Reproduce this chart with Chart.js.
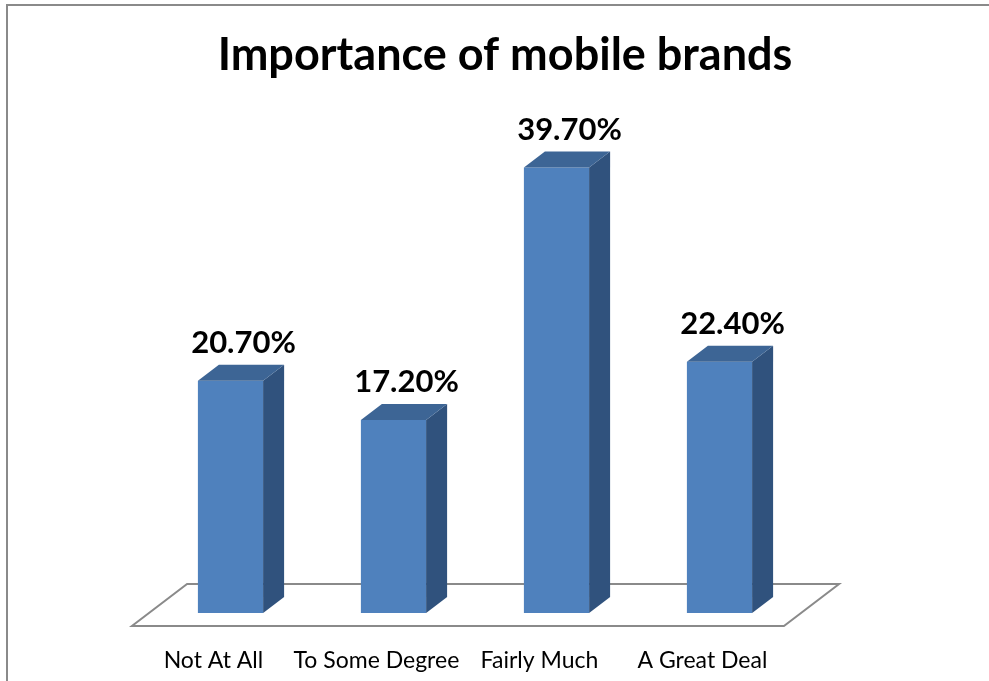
<!DOCTYPE html>
<html>
<head>
<meta charset="utf-8">
<title>Importance of mobile brands</title>
<script src="https://cdn.jsdelivr.net/npm/chart.js@4"></script>
<style>
  html, body { margin: 0; padding: 0; background: #fff; }
  #wrap { width: 989px; height: 681px; position: relative; }
</style>
</head>
<body>
<div id="wrap"><canvas id="brandChart"></canvas></div>
<script>
const categories = ['Not At All', 'To Some Degree', 'Fairly Much', 'A Great Deal'];
const shares = [20.7, 17.2, 39.7, 22.4];
const chartTitle = 'Importance of mobile brands';

const FONT = 'Lato, "Open Sans", sans-serif';
const FRONT = '#4f81bd';
const TOP = '#3d6595';
const SIDE = '#30527d';
const LINE = '#8a8a8a';
// depth of a bar (px to the right / up)
const DX = 21, DY = 16;
// floor sticks out this much in front of and behind the bars (vertical px)
const FLOOR_PAD = 13;
const SLOPE = DX / DY;

const box3d = {
  id: 'box3d',
  beforeDraw(chart) {
    const ctx = chart.ctx;
    ctx.save();
    // frame of the chart sheet
    ctx.strokeStyle = LINE;
    ctx.lineWidth = 2;
    ctx.beginPath();
    ctx.moveTo(7, 681);
    ctx.lineTo(7, 5);
    ctx.lineTo(989, 5);
    ctx.stroke();

    // title
    ctx.fillStyle = '#000';
    ctx.font = 'bold 45px ' + FONT;
    ctx.textAlign = 'center';
    ctx.textBaseline = 'alphabetic';
    ctx.fillText(chartTitle, 505, 70);
    ctx.restore();
  },
  beforeDatasetsDraw(chart) {
    const ctx = chart.ctx;
    const area = chart.chartArea;
    const y0 = chart.scales.y.getPixelForValue(0);
    const fy = y0 + FLOOR_PAD;
    const by = y0 - DY - FLOOR_PAD;
    const fl = area.left - FLOOR_PAD * SLOPE;
    const fr = area.right - FLOOR_PAD * SLOPE;
    const shift = (fy - by) * SLOPE;
    ctx.save();
    ctx.strokeStyle = LINE;
    ctx.lineWidth = 2;
    ctx.beginPath();
    ctx.moveTo(fl, fy);
    ctx.lineTo(fr, fy);
    ctx.lineTo(fr + shift, by);
    ctx.lineTo(fl + shift, by);
    ctx.closePath();
    ctx.stroke();

    // category labels sit on the front edge of the floor
    ctx.fillStyle = '#000';
    ctx.font = '23px ' + FONT;
    ctx.textAlign = 'center';
    ctx.textBaseline = 'alphabetic';
    const xs = chart.scales.x;
    categories.forEach((c, i) => {
      ctx.fillText(c, xs.getPixelForValue(i) - FLOOR_PAD * SLOPE, 668);
    });
    ctx.restore();
  },
  afterDatasetsDraw(chart) {
    const ctx = chart.ctx;
    const meta = chart.getDatasetMeta(0);
    ctx.save();
    meta.data.forEach((bar, i) => {
      const l = bar.x - bar.width / 2;
      const r = bar.x + bar.width / 2;
      const t = bar.y;
      const b = bar.base;
      // side face
      ctx.fillStyle = SIDE;
      ctx.beginPath();
      ctx.moveTo(r, t);
      ctx.lineTo(r + DX, t - DY);
      ctx.lineTo(r + DX, b - DY);
      ctx.lineTo(r, b);
      ctx.closePath();
      ctx.fill();
      // top face
      ctx.fillStyle = TOP;
      ctx.beginPath();
      ctx.moveTo(l, t);
      ctx.lineTo(l + DX, t - DY);
      ctx.lineTo(r + DX, t - DY);
      ctx.lineTo(r, t);
      ctx.closePath();
      ctx.fill();
      // value label
      ctx.fillStyle = '#000';
      ctx.font = 'bold 31px ' + FONT;
      ctx.textAlign = 'center';
      ctx.textBaseline = 'alphabetic';
      ctx.fillText(shares[i].toFixed(2) + '%', bar.x + 13, t - 28);
    });
    ctx.restore();
  }
};

new Chart(document.getElementById('brandChart'), {
  type: 'bar',
  data: {
    labels: categories,
    datasets: [{
      data: shares,
      backgroundColor: FRONT,
      borderWidth: 0,
      barPercentage: 0.4,
      categoryPercentage: 1
    }]
  },
  options: {
    responsive: true,
    maintainAspectRatio: false,
    animation: false,
    layout: { padding: { left: 149, right: 188, top: 164.2, bottom: 68 } },
    plugins: {
      legend: { display: false },
      title: { display: false },
      tooltip: { enabled: false }
    },
    scales: {
      x: { display: false },
      y: { display: false, min: 0, max: 40 }
    }
  },
  plugins: [box3d]
});
</script>
</body>
</html>
